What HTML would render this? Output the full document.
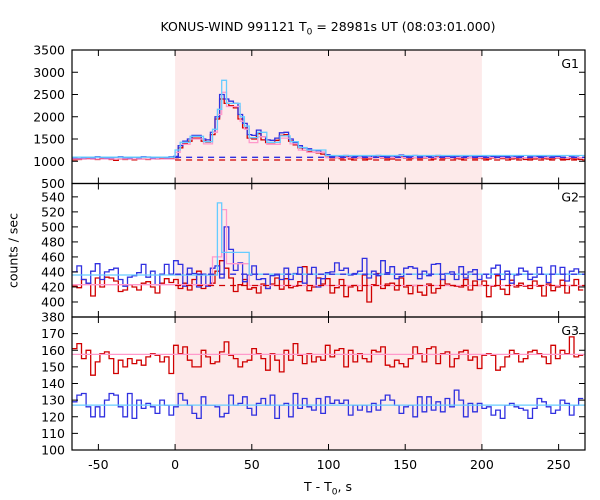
<!DOCTYPE html>
<html><head><meta charset="utf-8"><style>
body{margin:0;background:#fff}
svg{display:block;font-family:"DejaVu Sans","Liberation Sans",sans-serif}
</style></head><body>
<svg id="chart" width="600" height="500" viewBox="0 0 600 500"></svg>
<script>
// ---- data ----
const binStart = -67, binWidth = 3;
const xTicks = [-50,0,50,100,150,200,250];
const shadeRange = [0,200];
const coarseEdges = [-67,0,3.3,9.8,18.5,24.4,27.6,30.4,33.5,42.4,45.2,48.3,53.9,59.8,68.5,75,80.4,85.9,98.3,267];
const g1Cyan = [1090,1253,1425,1560,1440,1718,2167,2819,2300,2000,1792,1530,1650,1425,1570,1440,1310,1253,1130];
const g1Pink = [1050,1200,1380,1500,1390,1650,2050,2550,2230,1900,1720,1420,1550,1380,1520,1390,1250,1200,1080];
const g1Blue = [1070,1060,1080,1090,1075,1100,1085,1070,1080,1090,1100,1080,1070,1090,1080,1100,1095,1070,1085,1090,1080,1100,1110,
1350,1450,1500,1580,1580,1500,1480,1650,2000,2500,2400,2350,2300,2050,1850,1600,1580,1700,1550,1480,1470,1520,1640,1650,1500,1420,1350,1300,1280,1250,1240,1200,1150,
1110,1120,1100,1130,1090,1110,1120,1100,1090,1120,1130,1110,1100,1090,1120,1140,1110,1100,1130,1100,1120,1110,1090,1130,1100,1110,1120,1100,1090,1110,1120,1100,1110,1100,1090,1110,1120,1100,1110,1090,1100,1110,1080,1100,1090,1110,1100,1090,1100,1110,1090,1080,1100,1090,1080];
const g1Red = [1030,1040,1050,1060,1050,1040,1060,1060,1040,1020,1050,1040,1050,1030,1050,1050,1040,1060,1050,1060,1070,1060,1080,
1300,1400,1450,1520,1520,1450,1430,1600,1950,2400,2300,2250,2200,1950,1750,1520,1500,1620,1480,1420,1420,1470,1580,1600,1450,1370,1300,1250,1220,1200,1190,1160,1120,
1070,1080,1060,1090,1050,1070,1080,1060,1050,1080,1090,1070,1060,1050,1080,1090,1070,1060,1080,1060,1070,1080,1050,1090,1060,1070,1080,1060,1050,1070,1080,1060,1070,1060,1050,1070,1080,1060,1070,1050,1060,1070,1040,1060,1050,1070,1060,1050,1060,1070,1050,1040,1060,1050,1040];
const g2Cyan = [436,436,436,436,436,436,532,466,466,466,466,437,437,437,437,437,437,437,437];
const g2Pink = [423,423,423,423,423,460,460,523,451,451,451,422,422,422,422,422,422,422,422];
const g2Blue = [440,448,430,425,441,451,430,440,443,445,430,421,433,435,439,450,433,441,423,437,450,437,455,450,421,445,438,420,437,421,445,448,432,500,470,442,452,427,436,448,430,431,418,435,436,430,445,430,438,446,425,437,446,420,431,439,440,452,442,445,436,438,441,458,432,441,435,455,439,447,431,434,445,447,445,431,441,435,450,451,430,438,440,430,447,432,440,443,430,437,432,445,449,430,441,425,436,445,441,430,433,446,437,426,448,437,446,428,441,444,437];
const g2Red = [421,419,430,425,408,432,420,433,432,428,414,416,423,420,416,425,427,420,412,425,431,426,430,418,425,416,430,441,418,422,425,441,455,445,432,414,423,430,417,419,412,424,418,424,432,417,431,419,421,427,447,415,420,432,424,431,412,419,430,407,420,422,415,436,400,423,438,418,424,425,416,432,420,411,422,413,409,424,412,418,430,424,422,421,420,430,416,428,422,428,407,421,435,417,410,429,420,425,421,418,428,421,408,424,415,420,429,412,422,430,416];
const g3Red = [161,164,155,160,145,153,158,159,155,146,154,150,155,152,154,151,156,158,157,153,156,146,163,158,162,154,150,150,160,156,152,153,159,165,157,155,150,153,154,161,158,155,148,158,154,147,160,154,164,157,152,158,153,156,154,163,156,160,161,150,160,153,158,155,153,160,159,162,151,150,154,152,150,155,162,158,153,161,162,152,158,159,150,155,159,160,154,156,149,157,158,157,148,150,156,160,158,153,155,159,160,158,156,152,163,155,160,158,168,156,157];
const g3Blue = [129,133,134,126,120,126,120,130,134,133,126,120,134,119,130,125,128,126,122,130,127,121,126,134,130,127,122,119,132,127,127,126,120,122,133,127,128,132,125,121,128,131,127,133,119,127,128,120,134,125,131,126,124,131,122,132,128,130,128,130,121,127,124,127,123,128,124,130,133,130,127,122,126,127,120,132,123,132,124,129,123,131,126,136,130,120,128,123,128,125,126,121,124,119,127,128,126,125,124,119,125,131,129,126,122,124,130,128,121,127,131];
const g1Bg = [1089,1028];
const g2Bg = [437,422];
const g3Bg = [157.5,127];
// ---- layout ----
const L=72,R=585;
const panels=[
 {name:'g1',top:50,bot:183.5,min:500,max:3500,ticks:[500,1000,1500,2000,2500,3000,3500],label:'G1'},
 {name:'g2',top:183.5,bot:317,min:380,max:557.8,ticks:[380,400,420,440,460,480,500,520,540],label:'G2'},
 {name:'g3',top:317,bot:450,min:100,max:180,ticks:[100,110,120,130,140,150,160,170],label:'G3'}];
const xs=t=>L+(t+67.2)*(R-L)/(267.2+67.2);
const svg=document.getElementById('chart');
const NS='http://www.w3.org/2000/svg';
function mk(tag,attrs,parent){const e=document.createElementNS(NS,tag);for(const k in attrs)e.setAttribute(k,attrs[k]);(parent||svg).appendChild(e);return e;}
function yf(p){return v=>p.bot-(v-p.min)/(p.max-p.min)*(p.bot-p.top);}
function stepPathFine(vals,y){let d='';vals.forEach((v,i)=>{const a=Math.max(xs(binStart+i*binWidth),L),b=Math.min(xs(binStart+(i+1)*binWidth),R);d+=(i?'L':'M')+a.toFixed(1)+','+y(v).toFixed(1)+'L'+b.toFixed(1)+','+y(v).toFixed(1);});return d;}
function stepPathCoarse(edges,vals,y){let d='';vals.forEach((v,i)=>{const a=Math.max(xs(edges[i]),L),b=Math.min(xs(edges[i+1]),R);d+=(i?'L':'M')+a.toFixed(1)+','+y(v).toFixed(1)+'L'+b.toFixed(1)+','+y(v).toFixed(1);});return d;}
const sh=mk('rect',{x:xs(shadeRange[0]),y:50,width:xs(shadeRange[1])-xs(shadeRange[0]),height:400,fill:'#fdeaea'});


const clip=mk('clipPath',{id:'pc'});mk('rect',{x:L,y:50,width:R-L,height:400},clip);
const BLUE='#3030e0',RED='#d00000',CYAN='#66ccff',PINK='#ff99cc';
function line(p,d,color,name,w){const e=mk('path',{d:d,fill:'none',stroke:color,'stroke-width':w||1.3,'clip-path':'url(#pc)'});
 
 return e;}
function hline(p,v,t0,color,name,dash){const y=yf(p)(v);const e=mk('line',{x1:xs(t0),x2:R,y1:y,y2:y,stroke:color,'stroke-width':1.3});if(dash)e.setAttribute('stroke-dasharray','6,5');
 
 }
{const p=panels[0],y=yf(p);
 line(p,stepPathFine(g1Red,y),RED,'g1-red-series');
 line(p,stepPathFine(g1Blue,y),BLUE,'g1-blue-series');
 line(p,stepPathCoarse(coarseEdges,g1Pink,y),PINK,'g1-pink-series');
 line(p,stepPathCoarse(coarseEdges,g1Cyan,y),CYAN,'g1-cyan-series');
 hline(p,g1Bg[0],0,BLUE,'g1-blue-background',true);hline(p,g1Bg[1],0,RED,'g1-red-background',true);}
{const p=panels[1],y=yf(p);
 line(p,stepPathFine(g2Red,y),RED,'g2-red-series');
 line(p,stepPathFine(g2Blue,y),BLUE,'g2-blue-series');
 line(p,stepPathCoarse(coarseEdges,g2Pink,y),PINK,'g2-pink-series');
 line(p,stepPathCoarse(coarseEdges,g2Cyan,y),CYAN,'g2-cyan-series');
 hline(p,g2Bg[0],0,BLUE,'g2-blue-background',true);hline(p,g2Bg[1],0,RED,'g2-red-background',true);}
{const p=panels[2],y=yf(p);
 line(p,stepPathFine(g3Red,y),RED,'g3-red-series');
 line(p,stepPathFine(g3Blue,y),BLUE,'g3-blue-series');
 hline(p,g3Bg[0],-67.2,PINK,'g3-red-fit',false);hline(p,g3Bg[1],-67.2,CYAN,'g3-blue-fit',false);}
panels.forEach((p,pi)=>{
 const y=yf(p);
 const fr=mk('rect',{x:L,y:p.top,width:R-L,height:p.bot-p.top,fill:'none',stroke:'#000','stroke-width':1.2});
 
 
 xTicks.forEach(t=>{const x=xs(t);mk('line',{x1:x,x2:x,y1:p.top,y2:p.top+6,stroke:'#000'});mk('line',{x1:x,x2:x,y1:p.bot,y2:p.bot-6,stroke:'#000'});});
 p.ticks.forEach((v,i)=>{const yy=y(v);mk('line',{x1:L,x2:L+6,y1:yy,y2:yy,stroke:'#000'});mk('line',{x1:R,x2:R-6,y1:yy,y2:yy,stroke:'#000'});
  const tx=mk('text',{x:L-7,y:yy+4.5,'text-anchor':'end','font-size':12.5,fill:'#000'});tx.textContent=v;
  
  });
 const lb=mk('text',{x:579,y:p.top+18,'text-anchor':'end','font-size':12.5});lb.textContent=p.label;
 
 
});
xTicks.forEach(t=>{const tx=mk('text',{x:xs(t),y:469,'text-anchor':'middle','font-size':12.5});tx.textContent=t;
 
 });
</script>
<div style="position:absolute;left:0;top:0;width:600px;height:500px;pointer-events:none">
<div style="position:absolute;top:19px;left:0;width:656px;text-align:center;font:12.5px 'DejaVu Sans',sans-serif">KONUS-WIND 991121 T<sub style="font-size:9px">0</sub> = 28981s UT (08:03:01.000)</div>
<div style="position:absolute;left:-37px;top:243px;width:100px;text-align:center;transform:rotate(-90deg);font:12.5px 'DejaVu Sans',sans-serif">counts / sec</div>
<div style="position:absolute;top:479px;left:0;width:656px;text-align:center;font:12.5px 'DejaVu Sans',sans-serif">T - T<sub style="font-size:9px">0</sub>, s</div>
</div>
</body></html>
